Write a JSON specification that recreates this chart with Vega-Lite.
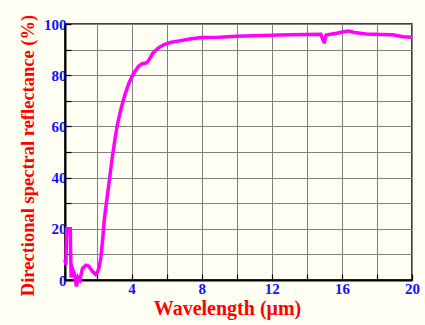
{
  "$schema": "https://vega.github.io/schema/vega-lite/v6.json",
  "autosize": "none",
  "width": 347,
  "height": 256,
  "padding": {"left": 65, "top": 24, "right": 13, "bottom": 45},
  "background": "#FFFEF2",
  "config": {
    "view": {"stroke": "#000000", "strokeWidth": 1.5, "fill": "#FFFEF2"},
    "axis": {
      "labelFont": "Liberation Serif",
      "titleFont": "Liberation Serif",
      "labelFontWeight": "bold",
      "titleFontWeight": "bold",
      "labelColor": "#1010FF",
      "titleColor": "#FF0000",
      "labelFlush": false,
      "gridColor": "#808080",
      "gridWidth": 1,
      "gridOpacity": 1,
      "domainColor": "#000000",
      "domainWidth": 2,
      "tickColor": "#000000",
      "tickWidth": 1.2,
      "tickSize": -6
    }
  },
  "data": {
    "values": [
      {"wl": 0.2, "r": 8},
      {"wl": 0.25, "r": 6},
      {"wl": 0.3, "r": 20},
      {"wl": 0.5, "r": 20},
      {"wl": 0.55, "r": 1},
      {"wl": 0.65, "r": 4},
      {"wl": 0.75, "r": 2},
      {"wl": 0.85, "r": -2.5},
      {"wl": 0.95, "r": 1},
      {"wl": 1.05, "r": 0},
      {"wl": 1.2, "r": 4.5},
      {"wl": 1.4, "r": 5.8},
      {"wl": 1.55, "r": 5.5},
      {"wl": 1.75, "r": 3.5},
      {"wl": 1.95, "r": 2.2},
      {"wl": 2.05, "r": 3},
      {"wl": 2.15, "r": 5},
      {"wl": 2.25, "r": 9},
      {"wl": 2.35, "r": 16},
      {"wl": 2.45, "r": 24},
      {"wl": 2.6, "r": 32},
      {"wl": 2.75, "r": 40},
      {"wl": 2.9, "r": 48},
      {"wl": 3.05, "r": 55},
      {"wl": 3.2, "r": 61},
      {"wl": 3.4, "r": 67},
      {"wl": 3.6, "r": 72},
      {"wl": 3.85, "r": 77},
      {"wl": 4.1, "r": 80.5},
      {"wl": 4.4, "r": 83.5},
      {"wl": 4.6, "r": 84.5},
      {"wl": 4.85, "r": 84.8},
      {"wl": 5.0, "r": 86},
      {"wl": 5.2, "r": 88.5},
      {"wl": 5.5, "r": 90.5},
      {"wl": 5.8, "r": 91.8},
      {"wl": 6.2, "r": 92.8},
      {"wl": 6.8, "r": 93.5},
      {"wl": 7.4, "r": 94.2},
      {"wl": 8.0, "r": 94.7},
      {"wl": 9.0, "r": 94.8},
      {"wl": 10.0, "r": 95.2},
      {"wl": 11.0, "r": 95.4},
      {"wl": 12.0, "r": 95.6},
      {"wl": 13.0, "r": 95.8},
      {"wl": 14.0, "r": 95.9},
      {"wl": 14.8, "r": 96},
      {"wl": 14.95, "r": 93.2},
      {"wl": 15.0, "r": 93},
      {"wl": 15.1, "r": 95.7},
      {"wl": 15.7, "r": 96.4},
      {"wl": 16.1, "r": 97},
      {"wl": 16.4, "r": 97.3},
      {"wl": 16.7, "r": 96.7},
      {"wl": 17.4, "r": 96.1},
      {"wl": 18.2, "r": 95.9},
      {"wl": 18.9, "r": 95.8},
      {"wl": 19.5, "r": 95},
      {"wl": 20.0, "r": 94.8}
    ]
  },
  "mark": {"type": "line", "color": "#FF00FF", "strokeWidth": 3.5, "clip": false},
  "encoding": {
    "x": {
      "field": "wl",
      "type": "quantitative",
      "scale": {"domain": [0.2, 20], "nice": false, "zero": false},
      "axis": {
        "values": [2, 4, 6, 8, 10, 12, 14, 16, 18, 20],
        "labelExpr": "datum.value % 4 == 0 ? datum.label : ''",
        "labelFontSize": 15,
        "labelPadding": 7,
        "title": "Wavelength (μm)",
        "titleFontSize": 20,
        "titlePadding": 2,
        "titleX": 162
      }
    },
    "y": {
      "field": "r",
      "type": "quantitative",
      "scale": {"domain": [0, 100], "nice": false},
      "axis": {
        "values": [0, 10, 20, 30, 40, 50, 60, 70, 80, 90, 100],
        "labelExpr": "datum.value % 20 == 0 ? datum.label : ''",
        "labelFontSize": 15,
        "labelPadding": 5,
        "title": "Directional spectral reflectance (%)",
        "titleFontSize": 18.5,
        "titlePadding": 6,
        "titleY": 131
      }
    }
  }
}
